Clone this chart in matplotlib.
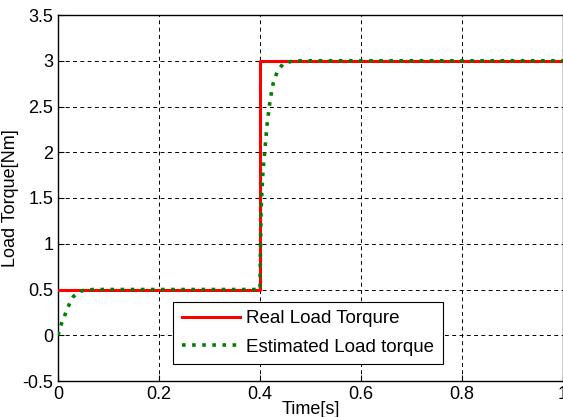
import matplotlib
matplotlib.use('Agg')
from matplotlib import pyplot as plt
import numpy as np

# real load torque (step at t=0.4)
t_real = [0.0, 0.4, 0.4, 1.0]
load_real = [0.5, 0.5, 3.0, 3.0]

# estimated load torque
t_est = [0.0, 0.005, 0.010, 0.015, 0.020, 0.025, 0.030, 0.040, 0.050, 0.070,
         0.400, 0.401, 0.402, 0.404, 0.406, 0.410, 0.414, 0.420, 0.426,
         0.434, 0.446, 0.467, 1.0]
load_est = [0.0, 0.10, 0.17, 0.24, 0.31, 0.37, 0.42, 0.47, 0.49, 0.50,
            0.50, 1.00, 1.35, 1.60, 1.80, 2.05, 2.30, 2.57, 2.75,
            2.88, 2.97, 3.00, 3.00]

xticks = [0, 0.2, 0.4, 0.6, 0.8, 1]
xticklabels = ['0', '0.2', '0.4', '0.6', '0.8', '1']
yticks = [-0.5, 0, 0.5, 1, 1.5, 2, 2.5, 3, 3.5]
yticklabels = ['-0.5', '0', '0.5', '1', '1.5', '2', '2.5', '3', '3.5']

plt.rcParams['font.family'] = ['Liberation Sans', 'DejaVu Sans']

fig = plt.figure(figsize=(5.63, 4.17), dpi=100)
ax = fig.add_axes([58/563, 36/417, 505/563, 366/417])

ax.plot(t_real, load_real, color='#ff0000', lw=2.2, label='Real Load Torqure', zorder=3)
ax.plot(t_est, load_est, color='#008000', lw=2.6, dashes=(1, 1.8),
        label='Estimated Load torque', zorder=4)

ax.set_xlim(0, 1)
ax.set_ylim(-0.5, 3.5)
ax.set_xticks(xticks)
ax.set_xticklabels(xticklabels)
ax.set_yticks(yticks)
ax.set_yticklabels(yticklabels)
ax.tick_params(direction='in', length=4, width=0.8, labelsize=13, colors='black')
ax.grid(True, color='black', linestyle=(0, (4, 3.5)), lw=0.7)
for s in ax.spines.values():
    s.set_linewidth(1.0)

ax.set_xlabel('Time[s]', fontsize=13, labelpad=-1)
ax.set_ylabel('Load Torque[Nm]', fontsize=13, labelpad=2)

leg = ax.legend(loc='lower left', bbox_to_anchor=(0.228, 0.046),
                borderaxespad=0, fontsize=13.5, fancybox=False, framealpha=1,
                edgecolor='black', borderpad=0.45, handlelength=3.1,
                handletextpad=0.35, labelspacing=0.6)
leg.get_frame().set_linewidth(0.8)

fig.savefig('out.png', dpi=100)
